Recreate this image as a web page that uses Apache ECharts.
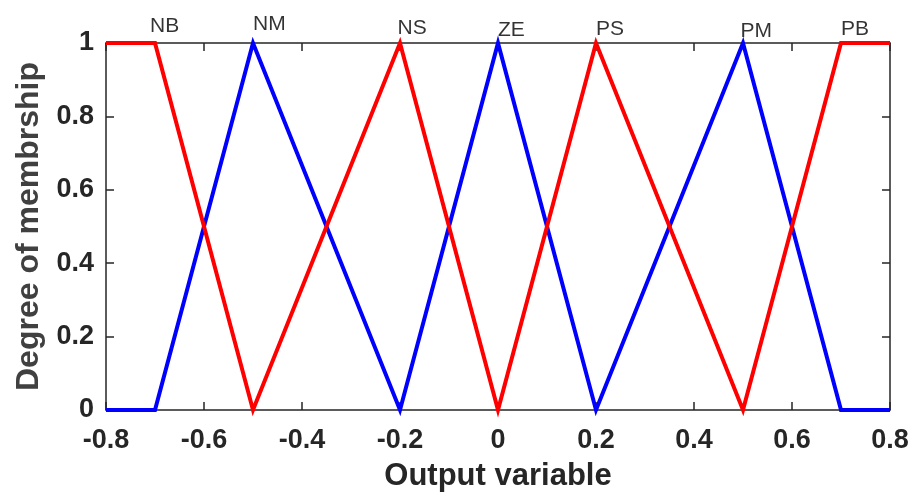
<!DOCTYPE html>
<html>
<head>
<meta charset="utf-8">
<title>Output membership functions</title>
<script src="https://cdn.jsdelivr.net/npm/echarts@6/dist/echarts.min.js"></script>
<style>
  html, body { margin: 0; padding: 0; background: #ffffff; }
  #chart { width: 916px; height: 502px; }
</style>
</head>
<body>
<div id="chart"></div>
<script>
// Breakpoints of the two membership traces (x = output variable, y = degree)
const redX  = [-0.8, -0.7, -0.5, -0.2, 0, 0.2, 0.5, 0.7, 0.8];
const redY  = [1, 1, 0, 1, 0, 1, 0, 1, 1];
const blueX = [-0.8, -0.7, -0.5, -0.2, 0, 0.2, 0.5, 0.7, 0.8];
const blueY = [0, 0, 1, 0, 1, 0, 1, 0, 0];

// Fuzzy set names, written just above each peak
const setNames  = ['NB', 'NM', 'NS', 'ZE', 'PS', 'PM', 'PB'];
const setPeaks  = [-0.71, -0.5, -0.205, 0, 0.2, 0.495, 0.7];
const setLabelY = [1.046, 1.052, 1.039, 1.036, 1.037, 1.033, 1.037];

// Axis ranges and tick spacing
const xMin = -0.8, xMax = 0.8, xStep = 0.2;
const yMin = 0, yMax = 1, yStep = 0.2;

const zip = (xs, ys) => xs.map((x, i) => [x, ys[i]]);
const fmt = v => String(+(+v).toFixed(1));

const FONT = '"Liberation Sans", Arial, sans-serif';
const AX = '#262626';

const tickLabel = {
  fontFamily: FONT, fontSize: 27, fontWeight: 'bold', color: AX
};

const chart = echarts.init(document.getElementById('chart'), null, { renderer: 'canvas' });

chart.setOption({
  animation: false,
  backgroundColor: '#ffffff',
  grid: { left: 106, right: 26, top: 43, bottom: 92, containLabel: false },
  xAxis: [
    {
      type: 'value', position: 'bottom',
      min: xMin, max: xMax, interval: xStep,
      name: 'Output variable', nameLocation: 'middle', nameGap: 51,
      nameTextStyle: { fontFamily: FONT, fontSize: 31, fontWeight: 'bold', color: AX },
      axisLine: { show: true, onZero: false, lineStyle: { color: AX, width: 1.5 } },
      axisTick: { show: true, inside: true, length: 8, lineStyle: { color: AX, width: 1.5 } },
      axisLabel: Object.assign({ margin: 17, formatter: fmt }, tickLabel),
      splitLine: { show: false }
    },
    {
      type: 'value', position: 'top',
      min: xMin, max: xMax, interval: xStep,
      axisLine: { show: true, onZero: false, lineStyle: { color: AX, width: 1.5 } },
      axisTick: { show: true, inside: true, length: 8, lineStyle: { color: AX, width: 1.5 } },
      axisLabel: { show: false },
      splitLine: { show: false }
    }
  ],
  yAxis: [
    {
      type: 'value', position: 'left',
      min: yMin, max: yMax, interval: yStep,
      name: 'Degree of membrship', nameLocation: 'middle', nameGap: 58,
      nameTextStyle: { fontFamily: FONT, fontSize: 32, fontWeight: 'bold', color: '#404040' },
      axisLine: { show: true, onZero: false, lineStyle: { color: AX, width: 1.5 } },
      axisTick: { show: true, inside: true, length: 8, lineStyle: { color: AX, width: 1.5 } },
      axisLabel: Object.assign({ margin: 12, formatter: fmt }, tickLabel),
      splitLine: { show: false }
    },
    {
      type: 'value', position: 'right',
      min: yMin, max: yMax, interval: yStep,
      axisLine: { show: true, onZero: false, lineStyle: { color: AX, width: 1.5 } },
      axisTick: { show: true, inside: true, length: 8, lineStyle: { color: AX, width: 1.5 } },
      axisLabel: { show: false },
      splitLine: { show: false }
    }
  ],
  series: [
    {
      name: 'blue', type: 'line', xAxisIndex: 0, yAxisIndex: 0,
      data: zip(blueX, blueY),
      symbol: 'none', clip: false, z: 2,
      lineStyle: { color: '#0000ff', width: 4, join: 'miter' }
    },
    {
      name: 'red', type: 'line', xAxisIndex: 0, yAxisIndex: 0,
      data: zip(redX, redY),
      symbol: 'none', clip: false, z: 3,
      lineStyle: { color: '#ff0000', width: 4, join: 'miter' }
    },
    {
      name: 'sets', type: 'scatter', xAxisIndex: 0, yAxisIndex: 0,
      data: setNames.map((n, i) => ({ value: [setPeaks[i], setLabelY[i]], name: n })),
      symbolSize: 0, clip: false, silent: true, z: 4,
      label: {
        show: true, position: 'right', distance: 0,
        formatter: p => p.name,
        fontFamily: FONT, fontSize: 21, color: '#000000'
      }
    }
  ]
});
</script>
</body>
</html>
